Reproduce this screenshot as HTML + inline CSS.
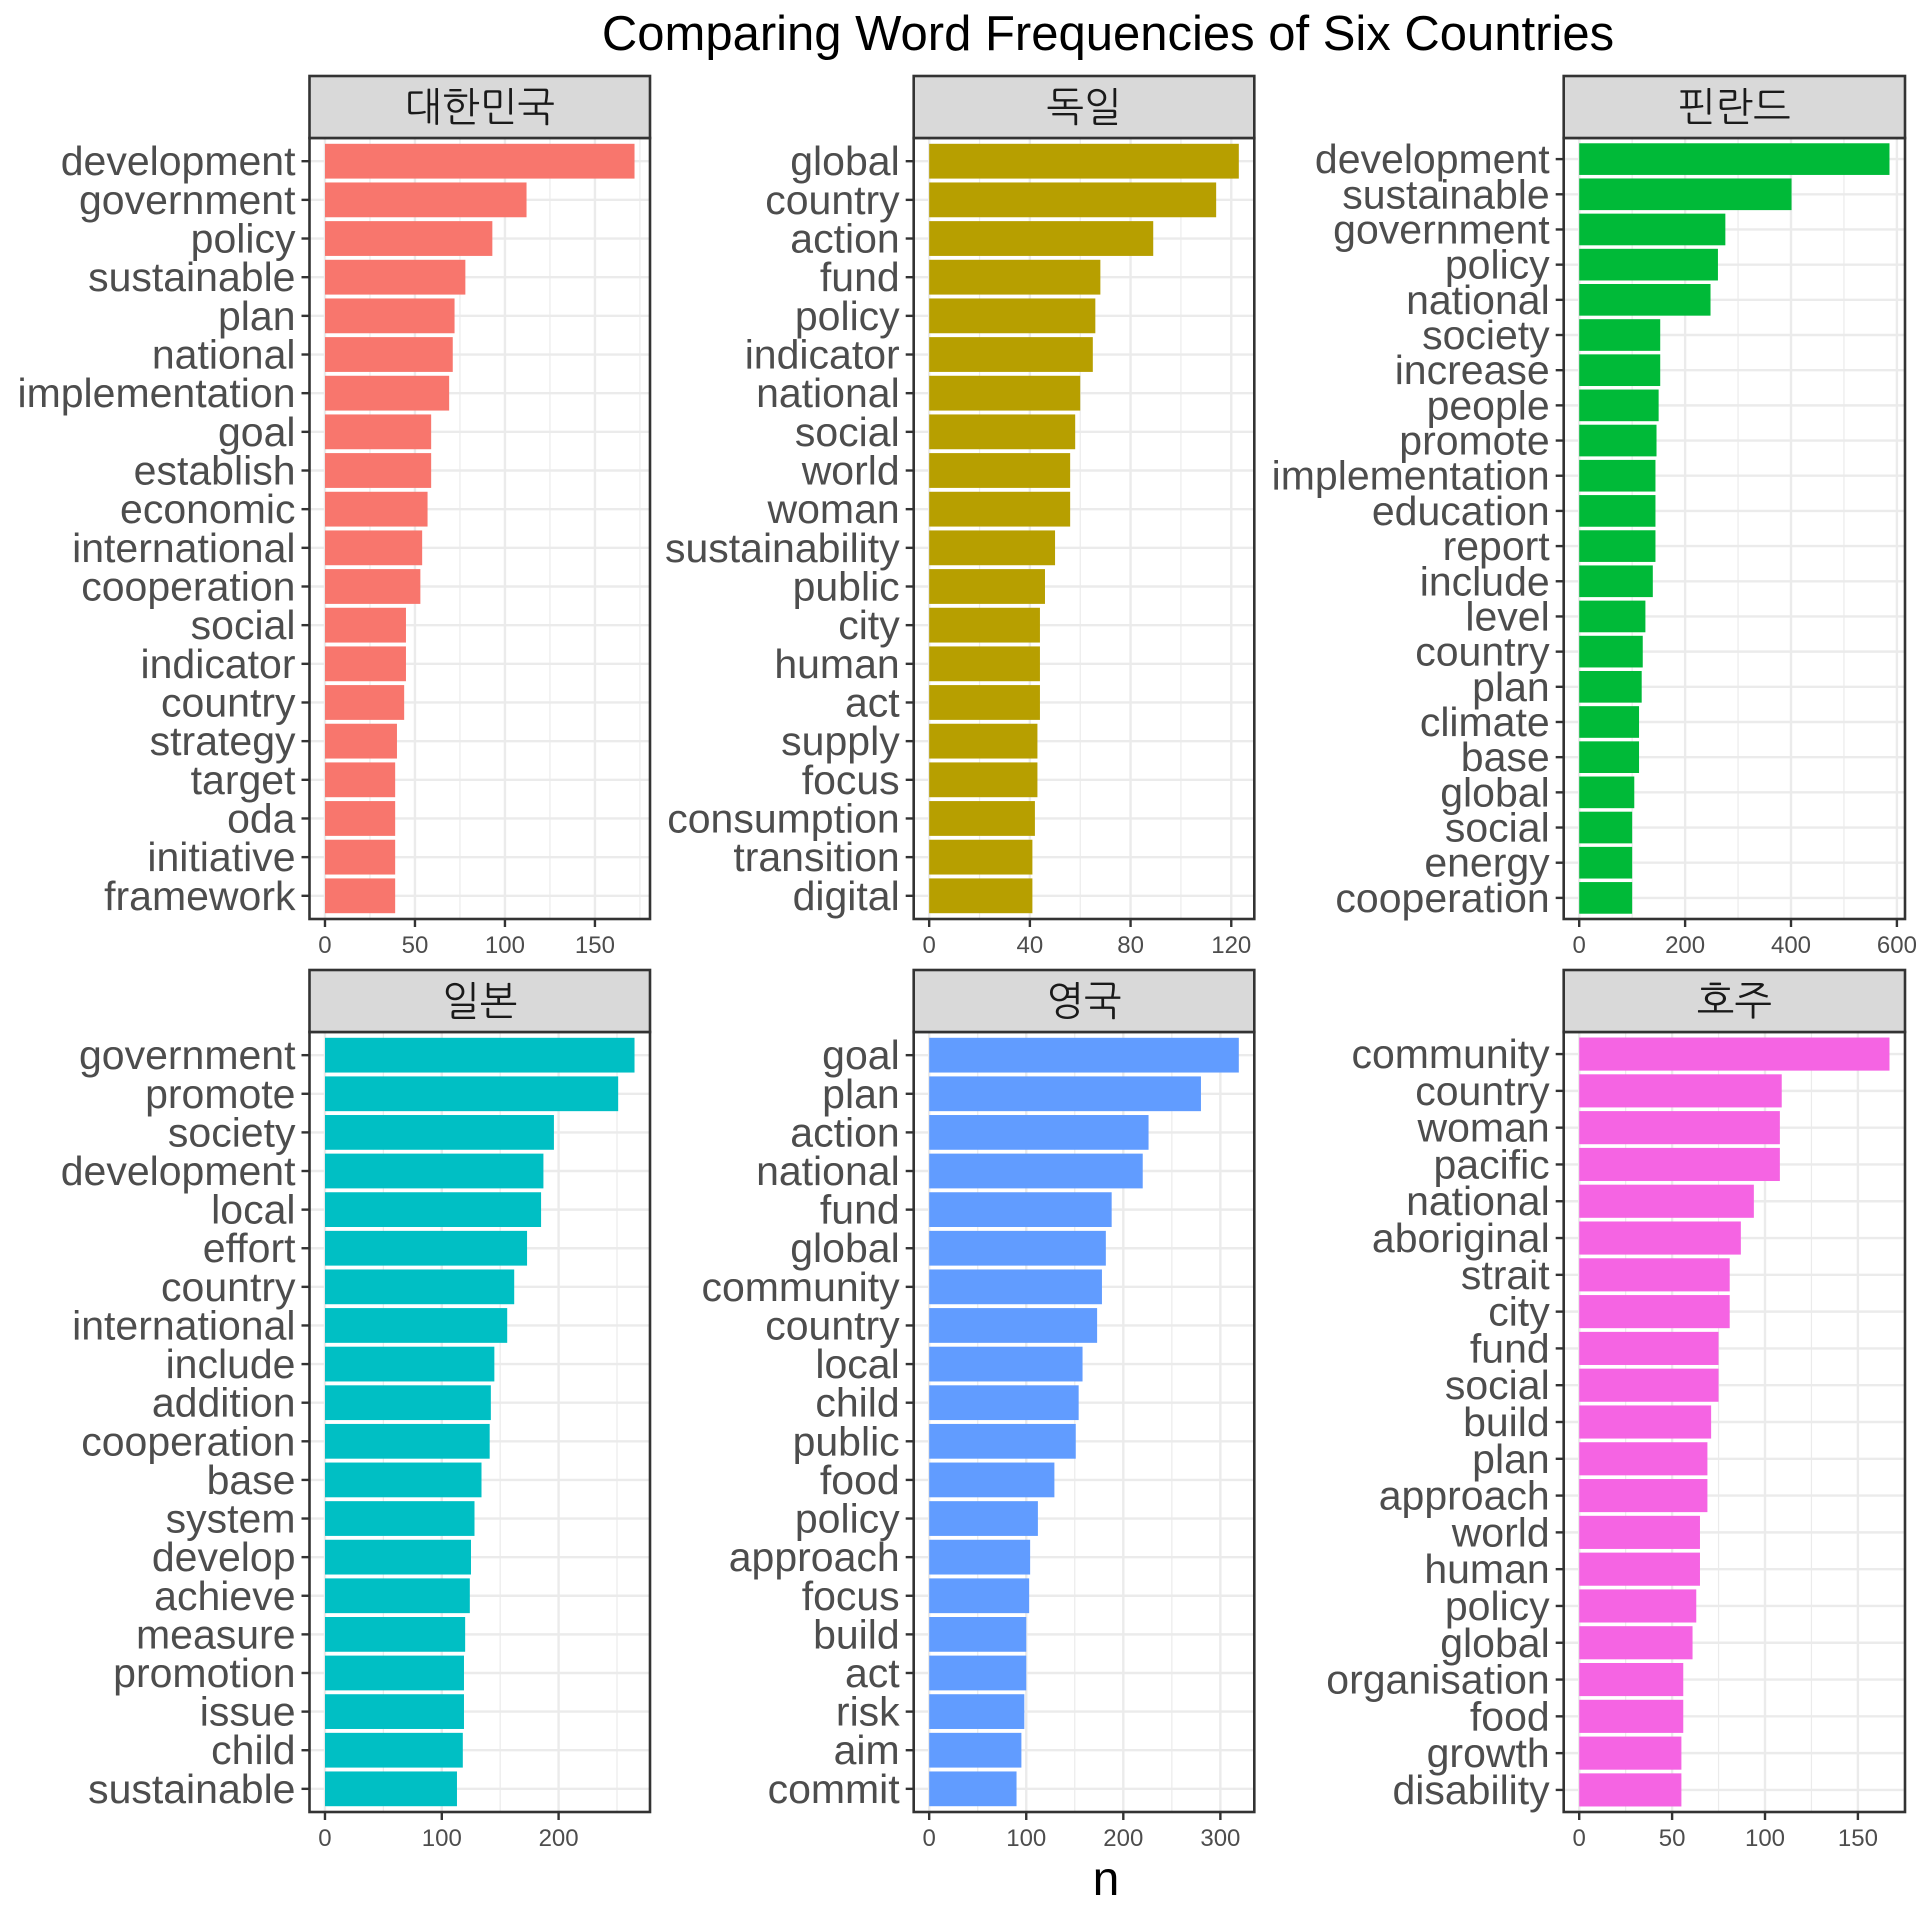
<!DOCTYPE html>
<html><head><meta charset="utf-8"><style>
html,body{margin:0;padding:0;background:#fff;}
svg{display:block;}
text{font-family:"Liberation Sans","NanumGothic","Noto Sans CJK KR",sans-serif;}
</style></head><body>
<svg id="chart" width="1920" height="1920" viewBox="0 0 1920 1920" xmlns="http://www.w3.org/2000/svg">
<text x="1108" y="50" font-size="49" text-anchor="middle" fill="#000">Comparing Word Frequencies of Six Countries</text>
<text x="1106" y="1895" font-size="48" text-anchor="middle" fill="#000">n</text>
</svg>
<script>
const panelNames = ["대한민국","독일","핀란드","일본","영국","호주"];
const panelColors = ["#F8766D","#B79F00","#00BA38","#00BFC4","#619CFF","#F564E3"];
const krWords = ["development","government","policy","sustainable","plan","national","implementation","goal","establish","economic","international","cooperation","social","indicator","country","strategy","target","oda","initiative","framework"];
const krValues = [172,112,93,78,72,71,69,59,59,57,54,53,45,45,44,40,39,39,39,39];
const deWords = ["global","country","action","fund","policy","indicator","national","social","world","woman","sustainability","public","city","human","act","supply","focus","consumption","transition","digital"];
const deValues = [123,114,89,68,66,65,60,58,56,56,50,46,44,44,44,43,43,42,41,41];
const fiWords = ["development","sustainable","government","policy","national","society","increase","people","promote","implementation","education","report","include","level","country","plan","climate","base","global","social","energy","cooperation"];
const fiValues = [586,401,276,262,248,153,153,150,146,144,144,144,139,125,120,118,113,113,104,100,100,100];
const jpWords = ["government","promote","society","development","local","effort","country","international","include","addition","cooperation","base","system","develop","achieve","measure","promotion","issue","child","sustainable"];
const jpValues = [265,251,196,187,185,173,162,156,145,142,141,134,128,125,124,120,119,119,118,113];
const ukWords = ["goal","plan","action","national","fund","global","community","country","local","child","public","food","policy","approach","focus","build","act","risk","aim","commit"];
const ukValues = [319,280,226,220,188,182,178,173,158,154,151,129,112,104,103,100,100,98,95,90];
const auWords = ["community","country","woman","pacific","national","aboriginal","strait","city","fund","social","build","plan","approach","world","human","policy","global","organisation","food","growth","disability"];
const auValues = [167,109,108,108,94,87,81,81,75,75,71,69,69,65,65,63,61,56,56,55,55];
const tickSteps = [50,40,200,100,100,50];

const wordSets = [krWords,deWords,fiWords,jpWords,ukWords,auWords];
const valueSets = [krValues,deValues,fiValues,jpValues,ukValues,auValues];
const NS = "http://www.w3.org/2000/svg";
const svg = document.getElementById("chart");
const cols = [[309.5,650],[913.7,1254.3],[1563.7,1905]];
const rows = [[76,138,919],[970,1032,1812]];

function mk(tag, attrs, parent){
  const e = document.createElementNS(NS, tag);
  for (const k in attrs) e.setAttribute(k, attrs[k]);
  (parent||svg).appendChild(e);
  return e;
}

for (let p = 0; p < 6; p++) {
  const [x0, x1] = cols[p % 3];
  const [sy, py0, py1] = rows[Math.floor(p / 3)];
  const words = wordSets[p], vals = valueSets[p];
  const max = Math.max(...vals);
  const dmin = -0.05 * max, dmax = 1.05 * max;
  const xs = v => x0 + (v - dmin) / (dmax - dmin) * (x1 - x0);
  const n = words.length;
  const unit = (py1 - py0) / (n + 0.2);
  const ys = i => py0 + (0.6 + i) * unit;

  const g = mk("g", {});
  
  

  mk("rect", {x: x0, y: py0, width: x1 - x0, height: py1 - py0, fill: "#fff"}, g);
  const step = tickSteps[p];
  for (let v = step / 2; v <= dmax; v += step) {
    if (Math.abs(v / step - Math.round(v / step)) < 1e-6) continue;
    mk("line", {x1: xs(v), x2: xs(v), y1: py0, y2: py1, stroke: "#ebebeb", "stroke-width": 1.2}, g);
  }
  for (let v = 0; v <= dmax; v += step) {
    mk("line", {x1: xs(v), x2: xs(v), y1: py0, y2: py1, stroke: "#ebebeb", "stroke-width": 2.4}, g);
  }
  for (let i = 0; i < n; i++) {
    mk("line", {x1: x0, x2: x1, y1: ys(i), y2: ys(i), stroke: "#ebebeb", "stroke-width": 2.4}, g);
  }
  for (let i = 0; i < n; i++) {
    const r = mk("rect", {x: xs(0), y: ys(i) - 0.45 * unit, width: xs(vals[i]) - xs(0), height: 0.9 * unit, fill: panelColors[p]}, g);
    
    
    mk("line", {x1: x0 - 8, x2: x0, y1: ys(i), y2: ys(i), stroke: "#333", "stroke-width": 2.4}, g);
    const t = mk("text", {x: x0 - 14, y: ys(i) + 14, "font-size": 41, "text-anchor": "end", fill: "#4d4d4d"}, g);
    
    
    t.textContent = words[i];
  }
  mk("rect", {x: x0, y: py0, width: x1 - x0, height: py1 - py0, fill: "none", stroke: "#333", "stroke-width": 2.6}, g);
  for (let v = 0; v <= dmax + 1e-6; v += step) {
    mk("line", {x1: xs(v), x2: xs(v), y1: py1, y2: py1 + 8, stroke: "#333", "stroke-width": 2.4}, g);
    const t = mk("text", {x: xs(v), y: py1 + 34, "font-size": 24, "text-anchor": "middle", fill: "#4d4d4d"}, g);
    
    
    t.textContent = v;
  }
  const s = mk("rect", {x: x0, y: sy, width: x1 - x0, height: py0 - sy, fill: "#d9d9d9", stroke: "#333", "stroke-width": 2.6}, g);
  
  
  const st = mk("text", {x: (x0 + x1) / 2, y: sy + 45, "font-size": 40, "text-anchor": "middle", fill: "#1a1a1a"}, g);
  
  
  st.textContent = panelNames[p];
}
</script>
</body></html>
